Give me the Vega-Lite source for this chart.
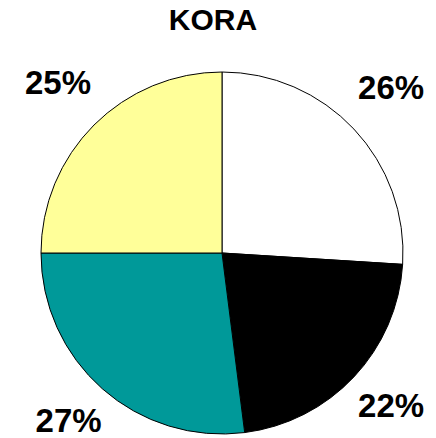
{
  "$schema": "https://vega.github.io/schema/vega-lite/v6.json",
  "width": 436,
  "height": 406,
  "autosize": "none",
  "padding": {"left": 4, "top": 50, "right": 0, "bottom": 0},
  "background": "white",
  "title": {
    "text": "KORA",
    "font": "Liberation Sans",
    "fontSize": 30,
    "fontWeight": "bold",
    "color": "black",
    "anchor": "middle",
    "dx": -9,
    "offset": 14
  },
  "data": {
    "values": [
      {"idx": 1, "cat": "A", "value": 26, "label": "26%"},
      {"idx": 2, "cat": "B", "value": 22, "label": "22%"},
      {"idx": 3, "cat": "C", "value": 27, "label": "27%"},
      {"idx": 4, "cat": "D", "value": 25, "label": "25%"}
    ]
  },
  "encoding": {
    "theta": {"field": "value", "type": "quantitative", "stack": true},
    "order": {"field": "idx", "type": "quantitative"}
  },
  "layer": [
    {
      "mark": {"type": "arc", "outerRadius": 181, "stroke": "black", "strokeWidth": 1},
      "encoding": {
        "color": {
          "field": "cat",
          "type": "nominal",
          "scale": {"domain": ["A", "B", "C", "D"], "range": ["#FFFFFF", "#000000", "#009999", "#FFFF99"]},
          "legend": null
        }
      }
    },
    {
      "mark": {"type": "text", "radius": 232, "dy": -5, "font": "Liberation Sans", "fontSize": 33, "fontWeight": "bold", "color": "black"},
      "encoding": {"text": {"field": "label"}}
    }
  ],
  "config": {"view": {"stroke": null}}
}
